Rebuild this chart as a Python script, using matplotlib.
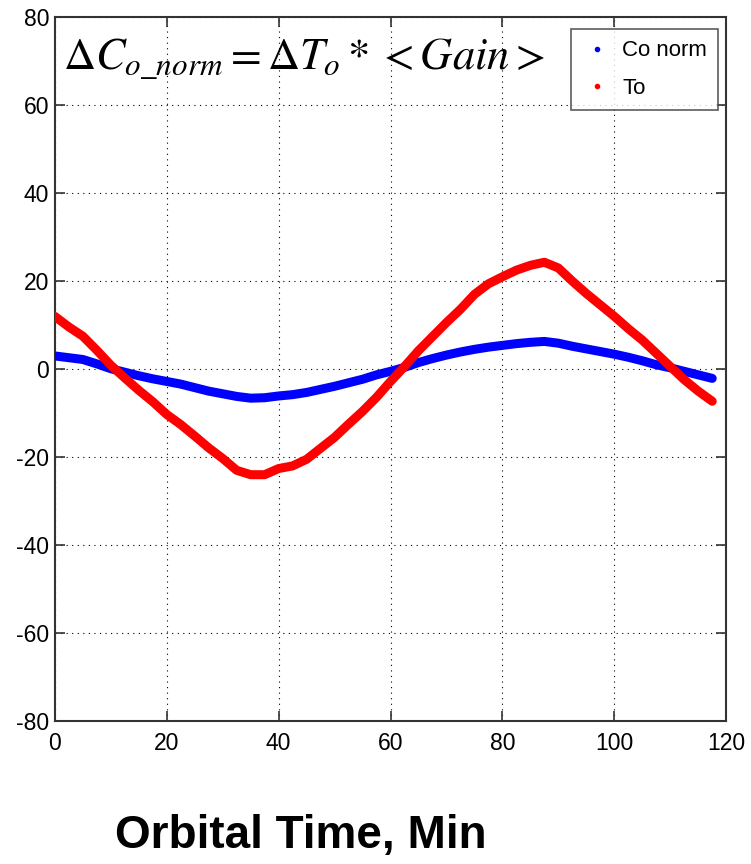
import matplotlib
matplotlib.use("Agg")
import matplotlib.pyplot as plt
from matplotlib.lines import Line2D

plt.rcParams['mathtext.fontset'] = 'stix'

time_min = [0, 2.5, 5, 7.5, 10, 12.5, 15, 17.5, 20, 22.5, 25, 27.5, 30, 32.5, 35,
            37.5, 40, 42.5, 45, 47.5, 50, 52.5, 55, 57.5, 60, 62.5, 65, 67.5, 70,
            72.5, 75, 77.5, 80, 82.5, 85, 87.5, 90, 92.5, 95, 97.5, 100, 102.5,
            105, 107.5, 110, 112.5, 115, 117.5]
to_vals = [12.0, 9.6, 7.5, 4.3, 0.9, -2.0, -4.8, -7.4, -10.3, -12.6, -15.2, -17.9,
           -20.3, -23.0, -24.0, -24.0, -22.6, -22.0, -20.5, -18.0, -15.5, -12.5,
           -9.6, -6.4, -2.8, 0.6, 4.2, 7.4, 10.6, 13.6, 17.0, 19.4, 21.0, 22.5,
           23.6, 24.3, 23.0, 20.0, 17.2, 14.6, 12.0, 9.2, 6.6, 3.6, 0.6, -2.4,
           -5.0, -7.3]
co_norm_vals = [3.0, 2.6, 2.2, 1.2, 0.1, -0.7, -1.5, -2.2, -2.8, -3.4, -4.2, -5.0,
                -5.6, -6.2, -6.6, -6.5, -6.1, -5.8, -5.3, -4.6, -3.9, -3.1, -2.3,
                -1.3, -0.5, 0.4, 1.5, 2.4, 3.2, 3.9, 4.5, 5.0, 5.4, 5.8, 6.1, 6.3,
                5.9, 5.2, 4.6, 4.0, 3.4, 2.7, 1.9, 1.0, 0.3, -0.5, -1.3, -2.1]
series_labels = ["Co norm", "To"]
x_ticks = [0, 20, 40, 60, 80, 100, 120]
y_ticks = [-80, -60, -40, -20, 0, 20, 40, 60, 80]

tick_font = ['Liberation Sans', 'DejaVu Sans']

fig = plt.figure(figsize=(7.51, 8.64), dpi=100)
ax = fig.add_axes([0.073, 0.1655, 0.894, 0.8145])

ax.plot(time_min, co_norm_vals, color='#0000ff', lw=6.5, solid_capstyle='round',
        solid_joinstyle='round', zorder=3)
ax.plot(time_min, to_vals, color='#ff0000', lw=6.5, solid_capstyle='round',
        solid_joinstyle='round', zorder=4)

ax.set_xlim(0, 120)
ax.set_ylim(-80, 80)
ax.set_xticks(x_ticks)
ax.set_yticks(y_ticks)
ax.set_xticklabels([str(v) for v in x_ticks], family=tick_font, fontsize=16.5)
ax.set_yticklabels([str(v) for v in y_ticks], family=tick_font, fontsize=16.5)
ax.tick_params(direction='in', length=7, width=1.2, top=True, right=True,
               colors='#333333', labelcolor='black')
ax.tick_params(axis='x', pad=8)
ax.tick_params(axis='y', pad=4)
ax.grid(True, color='black', linestyle=(0, (1, 4)), linewidth=0.8)
for s in ax.spines.values():
    s.set_linewidth(1.5)
    s.set_color('#333333')

ax.text(0.012, 0.972, r'$\Delta C_{o\_norm} = \Delta T_o * < Gain >$',
        transform=ax.transAxes, fontsize=32, va='top', ha='left')

handles = [Line2D([], [], color='#0000ff', marker='o', markersize=3, lw=0),
           Line2D([], [], color='#ff0000', marker='o', markersize=3, lw=0)]
leg = ax.legend(handles, series_labels, loc='upper right',
                bbox_to_anchor=(0.988, 0.983), prop={'family': tick_font, 'size': 16},
                frameon=True, fancybox=False, edgecolor='#333333',
                handlelength=1.3, handletextpad=0.5, borderpad=0.5,
                labelspacing=0.75, borderaxespad=0)
leg.get_frame().set_linewidth(1.2)

fig.text(0.40, 0.018, 'Orbital Time, Min', family=tick_font, fontweight='bold',
         fontsize=33, ha='center', va='baseline')

fig.savefig('out.png', dpi=100)
